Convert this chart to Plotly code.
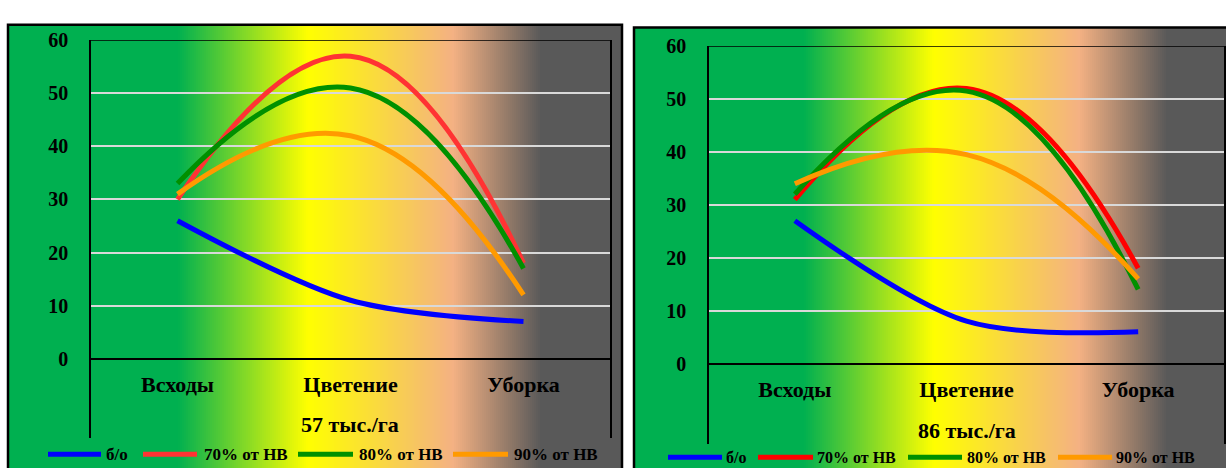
import plotly.graph_objects as go

W, H = 1226, 468

# ---- data -------------------------------------------------------------
stages = ["Всходы", "Цветение", "Уборка"]
series_names = ["б/о", "70% от НВ", "80% от НВ", "90% от НВ"]

# 57 тыс./га
left_bo = [26, 11, 7]
left_70 = [30, 57, 18]
left_80 = [33, 51, 17]
left_90 = [31, 42, 12]

# 86 тыс./га
right_bo = [27, 8, 6]
right_70 = [31, 52, 18]
right_80 = [32, 51.5, 14]
right_90 = [34, 39.5, 16]

y_ticks = [0, 10, 20, 30, 40, 50, 60]
panel_titles = ["57 тыс./га", "86 тыс./га"]

# ---- styling ----------------------------------------------------------
FONT = "Liberation Serif"
left_colors = ["#0000FF", "#FF3333", "#009000", "#FF9A00"]
right_colors = ["#0000FF", "#FF0000", "#009000", "#FF9A00"]
smoothing = [0.9, 1.3, 1.3, 1.3]

# horizontal background gradient: (offset from panel edge in px, colour)
grad_stops = [
    (0, (0x00, 0xB0, 0x50)),
    (170, (0x00, 0xB0, 0x50)),
    (300, (0xFF, 0xFF, 0x00)),
    (445, (0xF4, 0xB1, 0x83)),
    (533, (0x59, 0x59, 0x59)),
    (700, (0x59, 0x59, 0x59)),
]


def grad_color(px):
    for (p0, c0), (p1, c1) in zip(grad_stops[:-1], grad_stops[1:]):
        if p0 <= px <= p1:
            t = (px - p0) / (p1 - p0) if p1 > p0 else 0
            r, g, b = (round(a + (b_ - a) * t) for a, b_ in zip(c0, c1))
            return f"rgb({r},{g},{b})"
    return "rgb(89,89,89)"


# panel geometry in pixels
panels = [
    dict(left=8, right=622, top=14, plot_l=91, plot_r=610, plot_t=30,
         zero=356, plot_b=437, xa="x", ya="y", colors=left_colors,
         data=[left_bo, left_70, left_80, left_90],
         title_xy=(350, 423), legend_y=454, legend_size=17,
         legend_lines=[(48, 101), (143, 197), (298, 353), (453, 508)],
         legend_text=[104, 202, 357, 512]),
    dict(left=634, right=1250, top=17, plot_l=709, plot_r=1224, plot_t=36,
         zero=361, plot_b=443, xa="x2", ya="y2", colors=right_colors,
         data=[right_bo, right_70, right_80, right_90],
         title_xy=(967, 430), legend_y=457, legend_size=16,
         legend_lines=[(668, 722), (758, 813), (908, 962), (1058, 1112)],
         legend_text=[724, 815, 965, 1114]),
]

fig = go.Figure()
shapes = []
annotations = []


def px_x(v):
    return v / W


def px_y(v):
    return (H - v) / H


for i, p in enumerate(panels):
    # gradient fill of the chart panel
    step = 2
    width = p["right"] - p["left"]
    for off in range(0, width, step):
        shapes.append(dict(
            type="rect", xref="paper", yref="paper", layer="below",
            x0=px_x(p["left"] + off), x1=px_x(p["left"] + off + step + 0.6),
            y0=-0.1, y1=px_y(p["top"]),
            fillcolor=grad_color(off + step / 2), line=dict(width=0),
        ))
    # panel frame
    shapes.append(dict(
        type="rect", xref="paper", yref="paper", layer="below",
        x0=px_x(p["left"]), x1=px_x(p["right"]), y0=-0.1, y1=px_y(p["top"]),
        fillcolor="rgba(0,0,0,0)", line=dict(color="#000000", width=2.5),
    ))

    # series
    for name, vals, col, sm in zip(series_names, p["data"], p["colors"],
                                   smoothing):
        fig.add_trace(go.Scatter(
            x=stages, y=vals, name=name, mode="lines",
            line=dict(color=col, width=5, shape="spline", smoothing=sm),
            xaxis=p["xa"], yaxis=p["ya"], showlegend=False,
            hoverinfo="skip",
        ))

    # scale of the value axis
    px_per_unit = (p["zero"] - p["plot_t"]) / 60.0
    y_min = -(p["plot_b"] - p["zero"]) / px_per_unit

    sfx = "" if i == 0 else str(i + 1)
    fig.layout["xaxis" + sfx] = dict(
        domain=[px_x(p["plot_l"]), px_x(p["plot_r"])],
        anchor="free", position=px_y(p["zero"]),
        type="category", range=[-0.5, 2.5],
        showline=True, linecolor="#000000", linewidth=1.5,
        showgrid=False, zeroline=False, ticks="",
        ticklabelstandoff=6,
        tickfont=dict(family=FONT, size=22, color="#000000", weight=700),
    )
    fig.layout["yaxis" + sfx] = dict(
        domain=[px_y(p["plot_b"]), px_y(p["plot_t"])],
        anchor=p["xa"], range=[y_min, 60],
        tickvals=y_ticks, showgrid=True, gridcolor="#D9D9D9", gridwidth=1.5,
        showline=True, mirror=True, linecolor="#000000", linewidth=1.5,
        zeroline=False, ticks="", ticklabelstandoff=17,
        tickfont=dict(family=FONT, size=20, color="#000000", weight=700),
    )

    # top edge of the plot area
    shapes.append(dict(
        type="line", xref=p["xa"] + " domain", yref=p["ya"],
        x0=0, x1=1, y0=60, y1=60, layer="above",
        line=dict(color="#000000", width=1.5),
    ))

    # density caption
    tx, ty = p["title_xy"]
    annotations.append(dict(
        text=panel_titles[i], xref="paper", yref="paper",
        x=px_x(tx), y=px_y(ty), xanchor="center", yanchor="middle",
        showarrow=False,
        font=dict(family=FONT, size=22, color="#000000", weight=700),
    ))

    # legend row
    for (lx0, lx1), tx_l, name, col in zip(p["legend_lines"], p["legend_text"],
                                           series_names, p["colors"]):
        shapes.append(dict(
            type="line", xref="paper", yref="paper", layer="above",
            x0=px_x(lx0), x1=px_x(lx1),
            y0=px_y(p["legend_y"]), y1=px_y(p["legend_y"]),
            line=dict(color=col, width=5),
        ))
        annotations.append(dict(
            text=name, xref="paper", yref="paper",
            x=px_x(tx_l), y=px_y(p["legend_y"]),
            xanchor="left", yanchor="middle", showarrow=False,
            font=dict(family=FONT, size=p["legend_size"], color="#000000",
                      weight=700),
        ))

fig.update_layout(
    width=W, height=H,
    margin=dict(l=0, r=0, t=0, b=0),
    paper_bgcolor="#FFFFFF",
    plot_bgcolor="rgba(0,0,0,0)",
    shapes=shapes,
    annotations=annotations,
    showlegend=False,
)

fig.write_html("out.html")
